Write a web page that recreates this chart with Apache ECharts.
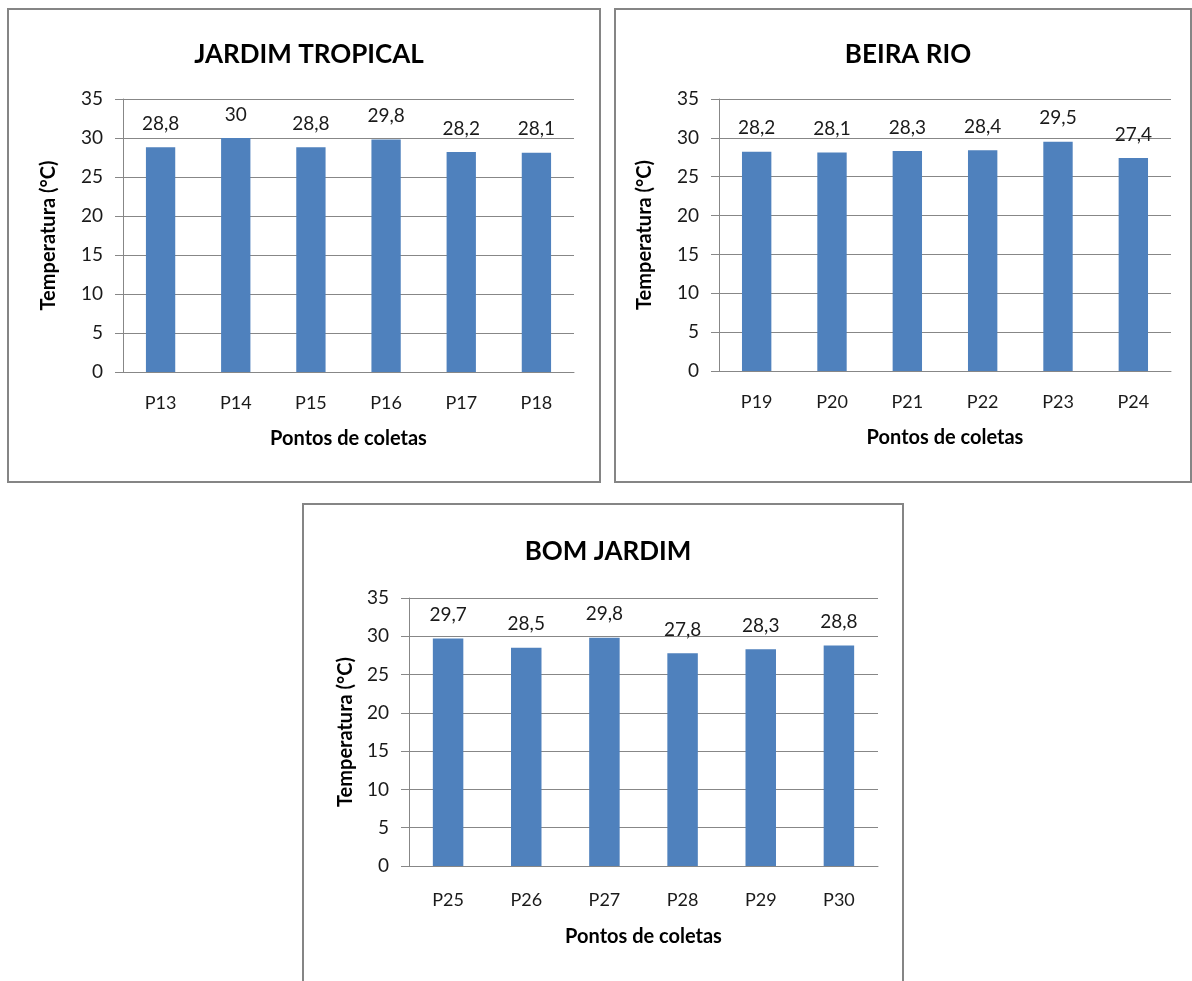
<!DOCTYPE html>
<html><head><meta charset="utf-8">
<script src="https://cdn.jsdelivr.net/npm/echarts@6/dist/echarts.min.js"></script>
<style>html,body{margin:0;padding:0;background:#fff}#c{width:1192px;height:981px}</style>
</head><body><div id="c"></div>
<script>
const titles = ['JARDIM TROPICAL', 'BEIRA RIO', 'BOM JARDIM'];
const catsJT = ['P13','P14','P15','P16','P17','P18'];
const valsJT = [28.8, 30, 28.8, 29.8, 28.2, 28.1];
const catsBR = ['P19','P20','P21','P22','P23','P24'];
const valsBR = [28.2, 28.1, 28.3, 28.4, 29.5, 27.4];
const catsBJ = ['P25','P26','P27','P28','P29','P30'];
const valsBJ = [29.7, 28.5, 29.8, 27.8, 28.3, 28.8];
const yName = 'Temperatura (°C)';
const xName = 'Pontos de coletas';

const FONT = 'Lato';
const grids = [
  {left:123, top:99, width:451, height:273},
  {left:719, top:99, width:452, height:272},
  {left:409, top:598, width:469, height:268}
];
const boxes = [
  {x:8, y:9, w:592, h:473, cx:304, ty:37},
  {x:615, y:9, w:576, h:473, cx:903, ty:37},
  {x:303, y:504, w:600, h:490, cx:603, ty:534}
];
const yNameGap = [64, 64, 53];
const xNameGap = [57, 57, 61];
const xLabMargin = [22, 22, 25];
const cats = [catsJT, catsBR, catsBJ];
const vals = [valsJT, valsBR, valsBJ];

const gray = '#878787';
const option = {
  animation:false,
  backgroundColor:'#fff',
  textStyle:{fontFamily:FONT},
  title: titles.map((t,i)=>({text:t, left:boxes[i].cx, top:boxes[i].ty, textAlign:'center',
    textStyle:{fontFamily:FONT, fontWeight:'bold', fontSize:26, color:'#000'}})),
  graphic: boxes.map(b=>({type:'rect', shape:{x:b.x, y:b.y, width:b.w, height:b.h},
    style:{fill:'none', stroke:'#858585', lineWidth:2}, z:-1})),
  grid: grids.map(g=>Object.assign({containLabel:false}, g)),
  xAxis: cats.map((c,i)=>({type:'category', gridIndex:i, data:c,
    name:xName, nameLocation:'middle', nameGap:xNameGap[i],
    nameTextStyle:{fontFamily:FONT, fontWeight:'bold', fontSize:20, color:'#000'},
    axisLine:{lineStyle:{color:gray, width:1}}, axisTick:{show:false},
    axisLabel:{fontFamily:FONT, fontSize:18, color:'#1a1a1a', margin:xLabMargin[i]}})),
  yAxis: cats.map((c,i)=>({type:'value', gridIndex:i, min:0, max:35, interval:5,
    name:yName, nameLocation:'middle', nameGap:yNameGap[i], nameRotate:90,
    nameTextStyle:{fontFamily:FONT, fontWeight:'bold', fontSize:20, color:'#000'},
    axisLine:{show:true, lineStyle:{color:gray, width:1}},
    axisTick:{show:true, length:8, lineStyle:{color:gray}},
    splitLine:{lineStyle:{color:gray, width:1}},
    axisLabel:{fontFamily:FONT, fontSize:19, color:'#1a1a1a', margin:20}})),
  series: vals.map((v,i)=>({type:'bar', xAxisIndex:i, yAxisIndex:i, data:v, barWidth:'39%',
    itemStyle:{color:'#4F81BD'},
    label:{show:true, position:'top', distance:14, fontFamily:FONT, fontSize:19, color:'#1a1a1a',
      formatter:p=>String(p.value).replace('.', ',')}}))
};
const chart = echarts.init(document.getElementById('c'), null, {renderer:'canvas'});
chart.setOption(option);
</script></body></html>
